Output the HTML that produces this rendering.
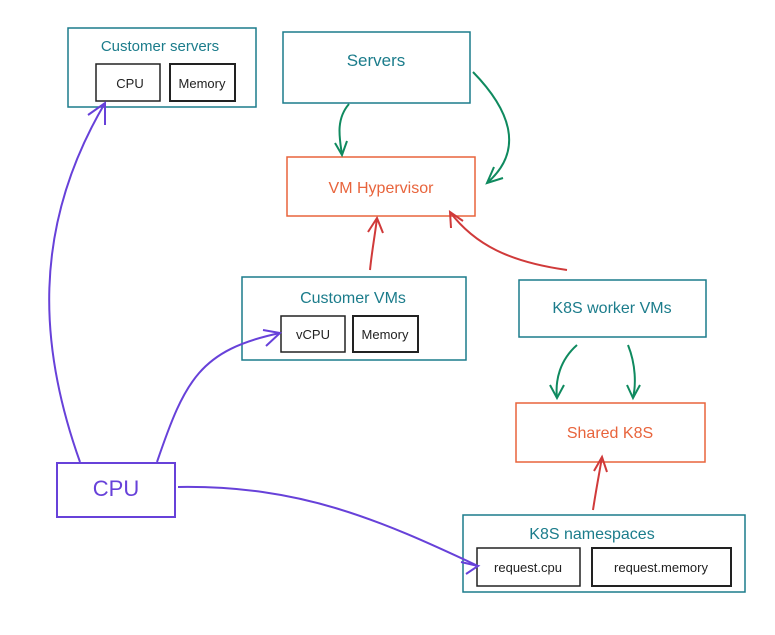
<!DOCTYPE html>
<html><head><meta charset="utf-8"><style>
html,body{margin:0;padding:0;background:#fff}
svg text{font-family:"Liberation Sans",sans-serif}
</style></head><body>
<svg width="775" height="630" viewBox="0 0 775 630" xmlns="http://www.w3.org/2000/svg">
<rect width="775" height="630" fill="#fff"/>
<g fill="none" stroke-width="1.5">
<!-- teal boxes -->
<g stroke="#1b7c8b">
<rect x="68" y="28" width="188" height="79"/>
<rect x="283" y="32" width="187" height="71"/>
<rect x="242" y="277" width="224" height="83"/>
<rect x="519" y="280" width="187" height="57"/>
<rect x="463" y="515" width="282" height="77"/>
</g>
<g stroke="#e8643c">
<rect x="287" y="157" width="188" height="59"/>
<rect x="516" y="403" width="189" height="59"/>
</g>
<g stroke="#222">
<rect x="96" y="64" width="64" height="37"/>
<rect x="170" y="64" width="65" height="37" stroke-width="2"/>
<rect x="281" y="316" width="64" height="36"/>
<rect x="353" y="316" width="65" height="36" stroke-width="2"/>
<rect x="477" y="548" width="103" height="38"/>
<rect x="592" y="548" width="139" height="38" stroke-width="2"/>
</g>
<rect x="57" y="463" width="118" height="54" stroke="#6741d9" stroke-width="2"/>
<!-- green arrows -->
<g stroke="#0f8a5f" stroke-width="2">
<path d="M349 104 C 335 120 340 140 342 155"/><path d="M335 143 L342 155 L347 141"/>
<path d="M473 72 C 510 110 525 150 487 183"/><path d="M494 167 L487 183 L503 178"/>
<path d="M577 345 C 560 360 555 380 557 398"/><path d="M550 385 L557 398 L564 385"/>
<path d="M628 345 C 636 365 636 385 633 398"/><path d="M627 385 L633 398 L640 385"/>
</g>
<g stroke="#d03a3a" stroke-width="2">
<path d="M370 270 C 372 250 375 235 377 218"/><path d="M368 232 L377 218 L383 233"/>
<path d="M567 270 C 510 262 475 245 450 212"/><path d="M451 228 L450 212 L463 221"/>
<path d="M593 510 C 596 490 599 475 602 457"/><path d="M594 471 L602 457 L607 472"/>
</g>
<g stroke="#6741d9" stroke-width="2">
<path d="M80 462 C 40 350 30 230 105 103"/><path d="M88 115 L105 103 L105 125"/>
<path d="M157 462 C 185 380 200 350 280 333"/><path d="M263 330 L280 333 L266 346"/>
<path d="M178 487 C 300 485 380 520 478 566"/><path d="M461 562 L478 566 L466 574"/>
</g>
</g>
<g text-anchor="middle" font-size="15">
<text x="160" y="51" fill="#1b7c8b">Customer servers</text>
<text x="376" y="66" fill="#1b7c8b" font-size="17">Servers</text>
<text x="381" y="193" fill="#e8643c" font-size="16">VM Hypervisor</text>
<text x="353" y="303" fill="#1b7c8b" font-size="16">Customer VMs</text>
<text x="612" y="313" fill="#1b7c8b" font-size="16">K8S worker VMs</text>
<text x="610" y="438" fill="#e8643c" font-size="16">Shared K8S</text>
<text x="592" y="539" fill="#1b7c8b" font-size="16">K8S namespaces</text>
<text x="116" y="496" fill="#6741d9" font-size="22">CPU</text>
<g fill="#222" font-size="13">
<text x="130" y="88">CPU</text>
<text x="202" y="88">Memory</text>
<text x="313" y="339">vCPU</text>
<text x="385" y="339">Memory</text>
<text x="528" y="572">request.cpu</text>
<text x="661" y="572">request.memory</text>
</g>
</g>
</svg>
</body></html>
